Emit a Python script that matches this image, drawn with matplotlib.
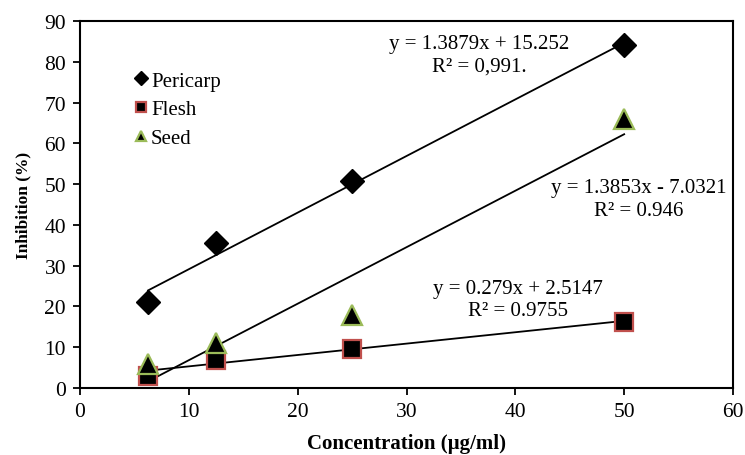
import numpy as np
import matplotlib
matplotlib.use("Agg")
import matplotlib.pyplot as plt

# Dados
concentracao = [6.25, 12.5, 25, 50]
pericarp = [21.0, 35.5, 50.7, 84.0]
flesh = [3.0, 6.8, 9.6, 16.3]
seed = [6.0, 11.0, 18.0, 66.0]

# coeficientes das linhas de tendência (do próprio gráfico)
coef_pericarp = (1.3879, 15.252)
coef_flesh = (0.279, 2.5147)
coef_seed = (1.3853, -7.0321)

eq_pericarp = "y = 1.3879x + 15.252\nR² = 0,991."
eq_seed = "y = 1.3853x - 7.0321\nR² = 0.946"
eq_flesh = "y = 0.279x + 2.5147\nR² = 0.9755"

plt.rcParams['font.family'] = ['Liberation Serif', 'DejaVu Serif']

fig = plt.figure(figsize=(7.45, 4.56), dpi=100)
ax = fig.add_axes([80 / 745, 1 - 389 / 456, (733 - 80) / 745, (389 - 22) / 456])

x = np.array(concentracao)
xs = np.array([x.min(), x.max()])

# linhas de tendência
for (a, b) in (coef_pericarp, coef_seed, coef_flesh):
    ax.plot(xs, a * xs + b, color='black', lw=1.3, zorder=2)

ax.plot(x, pericarp, linestyle='none', marker='D', ms=12.5, mfc='black', mec='black',
        label='Pericarp', zorder=3)
ax.plot(x, flesh, linestyle='none', marker='s', ms=13, mfc='black', mec='#c0504d', mew=1.6,
        label='Flesh', zorder=3)
ax.plot(x, seed, linestyle='none', marker='^', ms=14, mfc='black', mec='#9bbb59', mew=1.6,
        label='Seed', zorder=3)

ax.text(36.7, 81.7, eq_pericarp, ha='center', va='center', fontsize=15, linespacing=1.25)
ax.text(51.3, 46.3, eq_seed, ha='center', va='center', fontsize=15, linespacing=1.25)
ax.text(40.2, 21.7, eq_flesh, ha='center', va='center', fontsize=15, linespacing=1.25)

ax.set_xlim(0, 60)
ax.set_ylim(0, 90)
ax.set_xticks(range(0, 61, 10))
ax.set_yticks(range(0, 91, 10))
ax.tick_params(direction='out', length=5, width=1.3, labelsize=15.5, colors='black', pad=5)
for s in ax.spines.values():
    s.set_linewidth(1.5)

ax.set_xlabel('Concentration (µg/ml)', fontsize=15, fontweight='bold', labelpad=9)
ax.set_ylabel('Inhibition (%)', fontsize=12.5, fontweight='bold', labelpad=9)

leg = ax.legend(loc='upper left', bbox_to_anchor=(0.048, 0.915), frameon=False, fontsize=15,
                handletextpad=0.0, handlelength=1.0, labelspacing=0.45, markerscale=0.55)

fig.savefig('out.png', dpi=100)
